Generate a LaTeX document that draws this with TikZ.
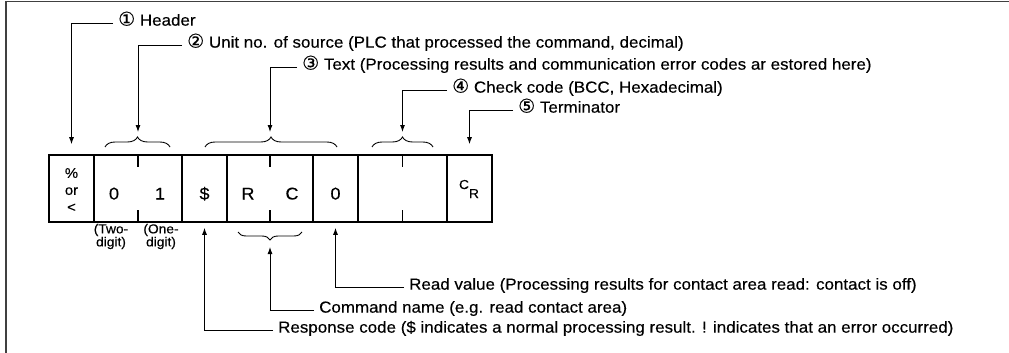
\documentclass[tikz,border=0pt]{standalone}
\usepackage{fontspec}
\setmainfont[FakeStretch=1.06,FakeBold=0.3]{Liberation Sans}
\newfontfamily\cnumfont[FakeBold=0.3]{DejaVu Sans}
\usetikzlibrary{arrows.meta,decorations.pathreplacing}
\newcommand\cnum[1]{{\cnumfont\fontsize{19}{18}\selectfont #1}}
\begin{document}
\begin{tikzpicture}[x=1pt,y=1pt,
  cell/.style={draw, line width=1.6pt, minimum height=67pt, inner sep=0pt},
  lbl/.style={anchor=mid west, inner xsep=5pt, inner ysep=0pt, font=\fontsize{16}{18}\selectfont},
  lead/.style={line width=0.9pt, -{Latex[length=7pt,width=5pt]}},
  brc/.style={line width=0.9pt, decorate, decoration={brace, amplitude=#1}},
  brc/.default=10pt,
  tick/.style={line width=1.6pt},
  ctext/.style={anchor=base, font=\fontsize{17}{18}\selectfont},
  small/.style={font=\fontsize{13}{13}\selectfont, align=center, inner sep=0pt},
  frame/.style={line width=1.8pt, draw=black!75}
]
\useasboundingbox (0,0) rectangle (1009,-353);
\draw[frame] (6,-353) -- (6,-1.5) -- (1009,-1.5);

% cells
\node[cell, minimum width=45pt] (c1) at (71.5,-188.5) {};
\node[cell, minimum width=88pt] (c2) at (138,-188.5) {};
\node[cell, minimum width=45pt] (c3) at (204.5,-188.5) {};
\node[cell, minimum width=86pt] (c4) at (270,-188.5) {};
\node[cell, minimum width=45pt] (c5) at (335.5,-188.5) {};
\node[cell, minimum width=89pt] (c6) at (402.5,-188.5) {};
\node[cell, minimum width=45pt] (c7) at (469.5,-188.5) {};

\foreach \c in {c2,c4,c6}{
  \draw[tick] (\c.north) -- ++(0,-13);
  \draw[tick] (\c.south) -- ++(0,13);
}

% cell texts
\node[font=\fontsize{14}{17}\selectfont, align=center, inner sep=0pt] (t1) at (71.5,-190) {\%\\or\\<};
\node[ctext] (t2a) at (114,-199.5) {0};
\node[ctext] (t2b) at (160,-199.5) {1};
\node[ctext] (t3) at (204.5,-199.5) {\$};
\node[ctext] (t4a) at (248,-199.5) {R};
\node[ctext] (t4b) at (292,-199.5) {C};
\node[ctext] (t5) at (335.5,-199.5) {0};
\node[font=\fontsize{13}{13}\selectfont, inner sep=0pt] (t7) at (469,-189) {\raisebox{4pt}{C}\raisebox{-5pt}{R}};

\node[small] (two) at (111,-236.5) {(Two-\\digit)};
\node[small] (one) at (161,-236.5) {(One-\\digit)};

% braces
\draw[brc] (105,-147) -- (170,-147);
\draw[brc] (205,-147) -- (337,-147);
\draw[brc] (372,-147) -- (433,-147);
\draw[brc=8pt] (302,-232) -- (238,-232);
\coordinate (a2) at (138,-132);
\coordinate (a3) at (270,-132);
\coordinate (a4) at (402.5,-132);
\coordinate (a7) at (270,-247);

% top labels
\node[lbl] (L1) at (113,-23) {\cnum{①} Header};
\node[lbl] (L2) at (182,-45) {\cnum{②} Unit no. of source (PLC that processed the command, decimal)};
\node[lbl] (L3) at (297,-67) {\cnum{③} Text (Processing results and communication error codes ar estored here)};
\node[lbl] (L4) at (447,-90) {\cnum{④} Check code (BCC, Hexadecimal)};
\node[lbl] (L5) at (513,-110) {\cnum{⑤} Terminator};

\draw[lead] (L1.mid west) -| ([yshift=10pt]c1.north);
\draw[lead] (L2.mid west) -| (a2);
\draw[lead] (L3.mid west) -| (a3);
\draw[lead] (L4.mid west) -| (a4);
\draw[lead] (L5.mid west) -| ([yshift=10pt]c7.north);

% bottom labels
\node[lbl] (B1) at (404,-287) {Read value (Processing results for contact area read: contact is off)};
\node[lbl] (B2) at (314,-310) {Command name (e.g. read contact area)};
\node[lbl] (B3) at (273,-330) {Response code (\$ indicates a normal processing result. ! indicates that an error occurred)};

\draw[lead] (B1.mid west) -| ([yshift=-5pt]c5.south);
\draw[lead] (B2.mid west) -| (a7);
\draw[lead] (B3.mid west) -| ([yshift=-5pt]c3.south);
\end{tikzpicture}
\end{document}
